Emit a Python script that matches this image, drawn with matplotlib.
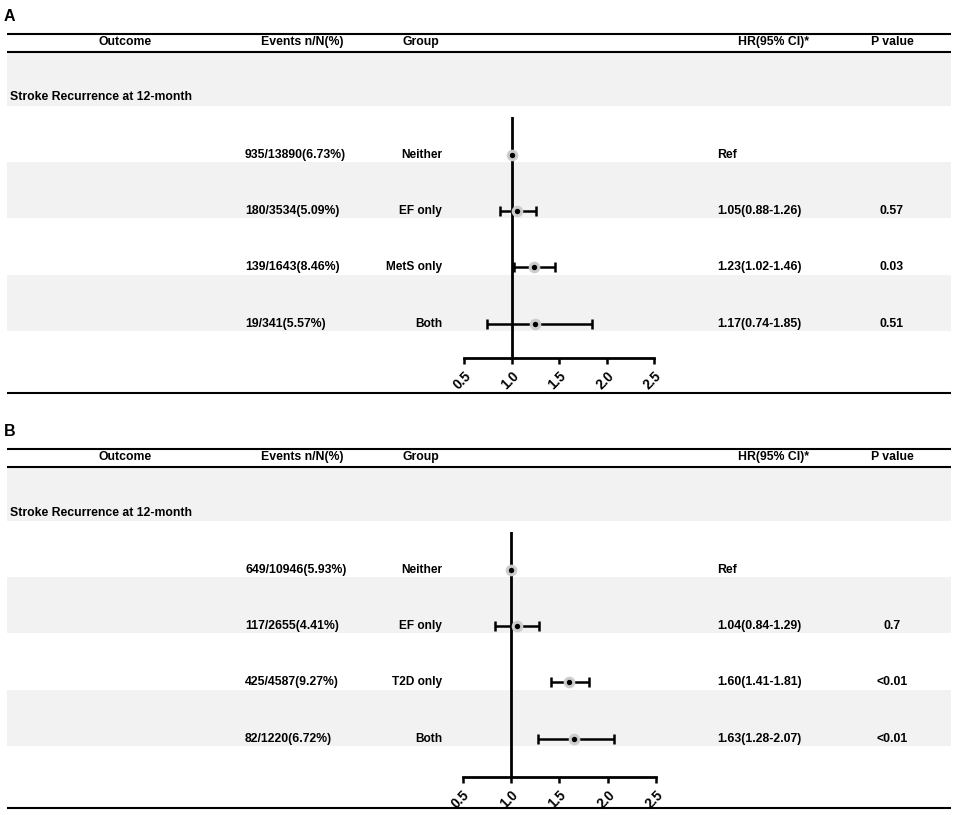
import matplotlib
matplotlib.use("Agg")
import matplotlib.pyplot as plt

plt.rcParams["font.family"] = ["Liberation Sans", "DejaVu Sans"]
plt.rcParams["font.weight"] = "bold"

W, H = 957, 815

# ---- data ----
headers = ["Outcome", "Events n/N(%)", "Group", "HR(95% CI)*", "P value"]
outcome = "Stroke Recurrence at 12-month"

events_a = ["935/13890(6.73%)", "180/3534(5.09%)", "139/1643(8.46%)", "19/341(5.57%)"]
groups_a = ["Neither", "EF only", "MetS only", "Both"]
hr_text_a = ["Ref", "1.05(0.88-1.26)", "1.23(1.02-1.46)", "1.17(0.74-1.85)"]
p_a = ["", "0.57", "0.03", "0.51"]
hr_a = [1.0, 1.06, 1.23, 1.25]
lo_a = [1.0, 0.88, 1.02, 0.74]
hi_a = [1.0, 1.26, 1.46, 1.85]

events_b = ["649/10946(5.93%)", "117/2655(4.41%)", "425/4587(9.27%)", "82/1220(6.72%)"]
groups_b = ["Neither", "EF only", "T2D only", "Both"]
hr_text_b = ["Ref", "1.04(0.84-1.29)", "1.60(1.41-1.81)", "1.63(1.28-2.07)"]
p_b = ["", "0.7", "<0.01", "<0.01"]
hr_b = [1.0, 1.06, 1.60, 1.65]
lo_b = [1.0, 0.84, 1.41, 1.28]
hi_b = [1.0, 1.29, 1.81, 2.07]

xticks = [0.5, 1.0, 1.5, 2.0, 2.5]

SHADE = "#f2f2f2"
FS = 8.8

fig = plt.figure(figsize=(W / 100, H / 100), dpi=100)
bg = fig.add_axes([0, 0, 1, 1])
bg.set_xlim(0, W)
bg.set_ylim(H, 0)
bg.axis("off")

ROW_H = 56.2
LX0, LX1 = 7, 951


def panel(top, label, events, groups, hr_text, pvals, hr, lo, hi, fx0, fx1, axis_y):
    # top = y of top rule (px)
    bg.text(4, top - 17, label, fontsize=11.5, fontweight="bold", va="center", ha="left")
    bg.hlines([top, top + 18], LX0, LX1, color="black", lw=1.5)
    hy = top + 8.5
    bg.text(125, hy, headers[0], fontsize=FS, ha="center", va="center")
    bg.text(302, hy, headers[1], fontsize=FS, ha="center", va="center")
    bg.text(421, hy, headers[2], fontsize=FS, ha="center", va="center")
    bg.text(773, hy, headers[3], fontsize=FS, ha="center", va="center")
    bg.text(892, hy, headers[4], fontsize=FS, ha="center", va="center")

    # outcome band
    b0 = top + 18
    b1 = b0 + 54
    bg.axhspan(b0, b1, LX0 / W, LX1 / W, color=SHADE, lw=0, zorder=0)
    bg.text(10, b1 - 8, outcome, fontsize=FS, ha="left", va="center")

    n = len(groups)
    row0 = b1 + 49.5
    for i in range(n):
        y = row0 + i * ROW_H
        if i % 2 == 1:
            bg.axhspan(y - 49, y + 7, LX0 / W, LX1 / W, color=SHADE, lw=0, zorder=0)
        bg.text(245, y, events[i], fontsize=FS, ha="left", va="center")
        bg.text(442, y, groups[i], fontsize=8.6, ha="right", va="center")
        bg.text(717, y, hr_text[i], fontsize=FS, ha="left", va="center")
        bg.text(892, y, pvals[i], fontsize=FS, ha="center", va="center")

    bottom = top + 359
    bg.hlines(bottom, LX0, LX1, color="black", lw=1.5)

    # forest plot
    ref_top = row0 - 38
    pad_t = (row0 - ref_top) / ROW_H
    pad_b = (axis_y - row0) / ROW_H
    ax = fig.add_axes([fx0 / W, 1 - axis_y / H, (fx1 - fx0) / W, (axis_y - ref_top) / H])
    ax.set_facecolor("none")
    ax.set_xlim(0.5, 2.5)
    ax.set_ylim(pad_b, -pad_t)
    rows = list(range(n))
    ax.axvline(1.0, color="black", lw=2, zorder=1)
    xerr = [[h - l for h, l in zip(hr, lo)], [u - h for h, u in zip(hr, hi)]]
    ax.errorbar(hr, rows, xerr=xerr, fmt="none", ecolor="black", elinewidth=1.8,
                capsize=3.5, capthick=1.8, zorder=2)
    ax.scatter(hr, rows, s=70, color="#cccccc", zorder=3, lw=0)
    ax.scatter(hr, rows, s=15, color="black", zorder=4, lw=0)
    for s in ["top", "right", "left"]:
        ax.spines[s].set_visible(False)
    ax.spines["bottom"].set_linewidth(2)
    ax.set_yticks([])
    ax.set_xticks(xticks)
    ax.set_xticklabels([f"{t:.1f}" for t in xticks], rotation=45, ha="right",
                       rotation_mode="anchor", fontsize=9.8, fontweight="bold")
    ax.tick_params(axis="x", direction="out", length=4, width=1.8, pad=4)


panel(33.5, "A", events_a, groups_a, hr_text_a, p_a, hr_a, lo_a, hi_a, 464.3, 654, 358)
panel(448.5, "B", events_b, groups_b, hr_text_b, p_b, hr_b, lo_b, hi_b, 462.5, 656, 776.5)

fig.savefig("out.png", dpi=100)
